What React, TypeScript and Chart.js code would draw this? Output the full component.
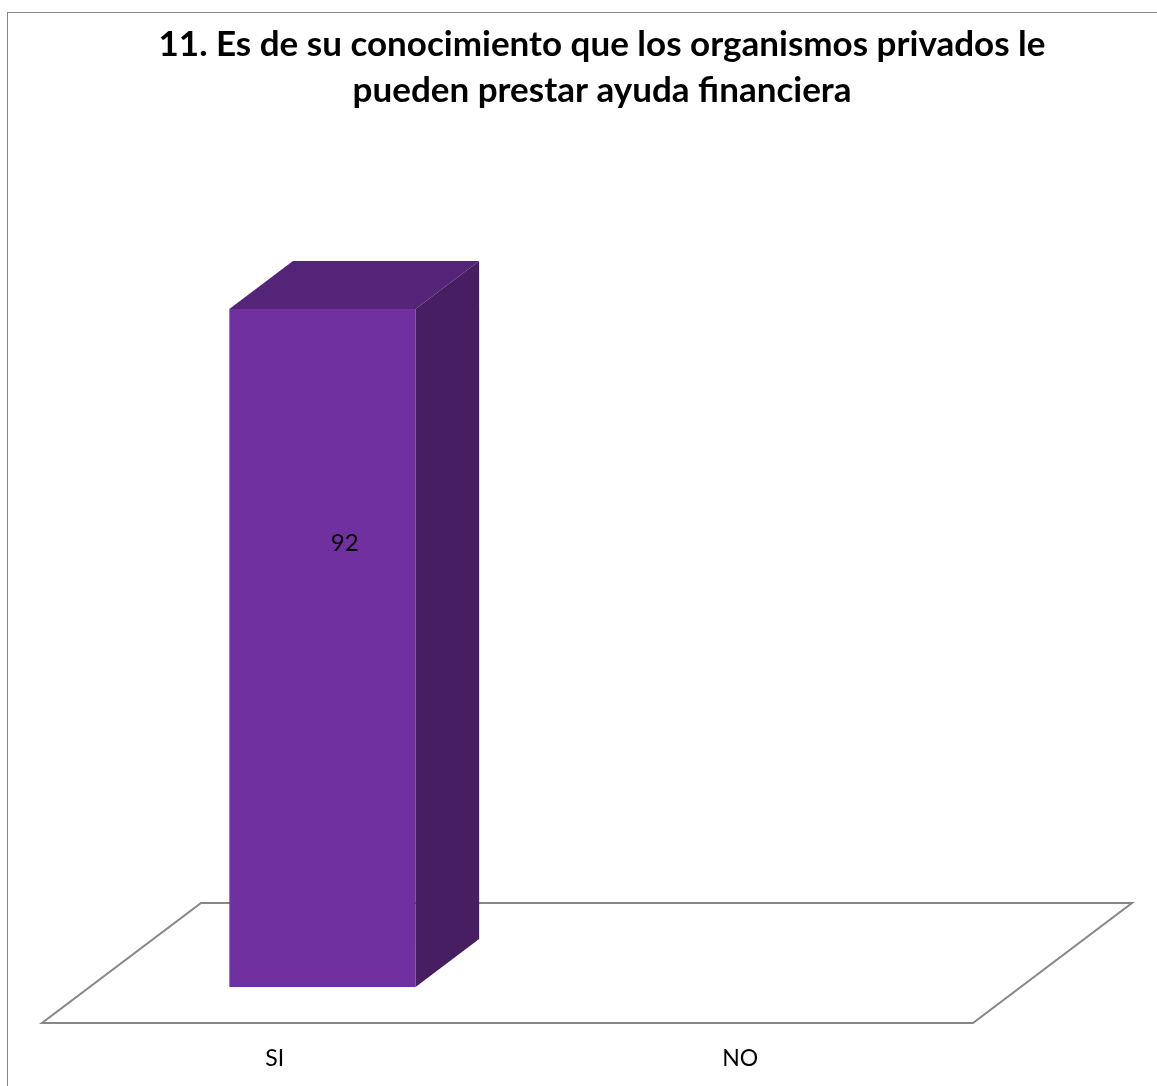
import React, { useEffect, useRef } from "react";
import { Chart, registerables } from "chart.js";

Chart.register(...registerables);

// ---- data ----
const categories = ["SI", "NO"];
const values = [92, 0];
const titleLines = [
  "11. Es de su conocimiento que los organismos privados le",
  "pueden prestar ayuda financiera",
];
const yMin = 0;
const yMax = 100;

// ---- style ----
const FRONT = "#7030A0";
const TOP = "#542478";
const SIDE = "#481E62";
const FLOOR_LINE = "#878787";
const BORDER = "#868686";
const FONT = "Lato, 'Open Sans', sans-serif";
const DEPTH_X = 159; // full floor depth vector
const DEPTH_Y = -120;
const FRONT_FRAC = 0.3; // bar front plane position inside the floor depth
const BAR_FRAC = 0.4; // bar depth as a fraction of floor depth

const threeD = {
  id: "threeD",
  beforeDraw(chart: any) {
    const { ctx, width, height } = chart;
    ctx.save();
    ctx.fillStyle = "#ffffff";
    ctx.fillRect(0, 0, width, height);
    ctx.strokeStyle = BORDER;
    ctx.lineWidth = 1;
    ctx.strokeRect(7.5, 12.5, width + 40, height + 40);
    ctx.fillStyle = "#000000";
    ctx.font = `bold 35px ${FONT}`;
    ctx.textAlign = "center";
    ctx.textBaseline = "alphabetic";
    ctx.fillText(titleLines[0], 602, 56);
    ctx.fillText(titleLines[1], 602, 102);
    ctx.restore();
  },
  beforeDatasetsDraw(chart: any) {
    const { ctx, chartArea } = chart;
    const base = chart.scales.y.getPixelForValue(yMin);
    const fx = -FRONT_FRAC * DEPTH_X;
    const fy = -FRONT_FRAC * DEPTH_Y;
    const bx = (1 - FRONT_FRAC) * DEPTH_X;
    const by = (1 - FRONT_FRAC) * DEPTH_Y;
    ctx.save();
    ctx.strokeStyle = FLOOR_LINE;
    ctx.lineWidth = 2;
    ctx.beginPath();
    ctx.moveTo(chartArea.left + fx, base + fy);
    ctx.lineTo(chartArea.right + fx, base + fy);
    ctx.lineTo(chartArea.right + bx, base + by);
    ctx.lineTo(chartArea.left + bx, base + by);
    ctx.closePath();
    ctx.stroke();
    ctx.restore();
  },
  afterDatasetsDraw(chart: any) {
    const { ctx } = chart;
    const meta = chart.getDatasetMeta(0);
    const dx = BAR_FRAC * DEPTH_X;
    const dy = BAR_FRAC * DEPTH_Y;
    ctx.save();
    meta.data.forEach((bar: any, i: number) => {
      const v = values[i];
      if (!v) return;
      const { x, y, base, width } = bar.getProps(["x", "y", "base", "width"], true);
      const L = x - width / 2;
      const R = x + width / 2;
      // top face
      ctx.fillStyle = TOP;
      ctx.beginPath();
      ctx.moveTo(L, y);
      ctx.lineTo(R, y);
      ctx.lineTo(R + dx, y + dy);
      ctx.lineTo(L + dx, y + dy);
      ctx.closePath();
      ctx.fill();
      // side face
      ctx.fillStyle = SIDE;
      ctx.beginPath();
      ctx.moveTo(R, y);
      ctx.lineTo(R + dx, y + dy);
      ctx.lineTo(R + dx, base + dy);
      ctx.lineTo(R, base);
      ctx.closePath();
      ctx.fill();
      // value label
      ctx.fillStyle = "#000000";
      ctx.font = `24px ${FONT}`;
      ctx.textAlign = "center";
      ctx.textBaseline = "middle";
      ctx.fillText(String(v), x + 0.12 * width, y + 0.345 * (base - y));
    });
    ctx.restore();
  },
};

export default function App() {
  const ref = useRef<HTMLCanvasElement | null>(null);
  useEffect(() => {
    if (!ref.current) return;
    const chart = new Chart(ref.current, {
      type: "bar",
      data: {
        labels: categories,
        datasets: [
          {
            data: values,
            backgroundColor: FRONT,
            borderWidth: 0,
            barPercentage: 0.4,
            categoryPercentage: 1,
          },
        ],
      },
      options: {
        animation: false,
        responsive: false,
        devicePixelRatio: 1,
        layout: { padding: { left: 89.7, right: 136.3, top: 250, bottom: 0 } },
        plugins: {
          legend: { display: false },
          title: { display: false },
          tooltip: { enabled: false },
        },
        scales: {
          x: {
            grid: { display: false },
            border: { display: false },
            ticks: {
              color: "#000000",
              font: { family: FONT, size: 23 },
              labelOffset: -FRONT_FRAC * DEPTH_X,
              padding: 50,
              maxRotation: 0,
            },
            afterFit: (scale: any) => {
              scale.height = 99;
            },
          },
          y: {
            display: false,
            min: yMin,
            max: yMax,
          },
        },
      },
      plugins: [threeD],
    });
    return () => chart.destroy();
  }, []);
  return (
    <div style={{ position: "absolute", left: 0, top: 0, width: 1157, height: 1086, overflow: "hidden" }}>
      <canvas ref={ref} width={1157} height={1086} style={{ display: "block" }} />
    </div>
  );
}
